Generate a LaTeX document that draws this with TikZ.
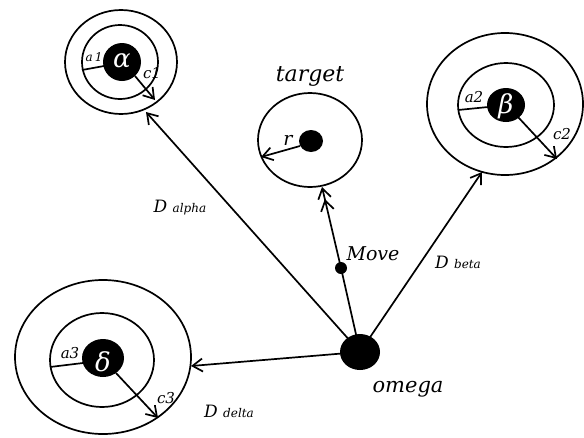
\documentclass[tikz,border=0pt]{standalone}
\usepackage{fontspec}
\setmainfont{DejaVu Serif}
\usetikzlibrary{arrows.meta}
\begin{document}
\begin{tikzpicture}[x=1pt,y=-1pt,
  ln/.style={line width=1.7pt},
  arr/.style={line width=1.7pt,-{Straight Barb[length=10pt,width=13pt,line width=1.7pt]}},
  darr/.style={line width=1.7pt,-{Straight Barb[length=10pt,width=13pt,line width=1.7pt]Straight Barb[length=10pt,width=13pt,line width=1.7pt]}},
  lbl/.style={font=\fontsize{19}{22}\selectfont\itshape},
  sm/.style={font=\fontsize{15}{17}\selectfont\itshape},
  greek/.style={text=white,font=\fontsize{26}{28}\selectfont\itshape}
]
\useasboundingbox (0,0) rectangle (584,437);
% alpha
\draw[ln] (121,62) ellipse [x radius=56,y radius=52];
\draw[ln] (120,62) ellipse [x radius=38,y radius=37];
\fill (122,62) ellipse [x radius=19,y radius=19];
\node[greek] (alpha) at (122,61) {α};
\coordinate (a1s) at (82,70);
\coordinate (a1e) at (104,66);
\draw[ln] (a1s) -- (a1e);
\node[font=\fontsize{12}{13}\selectfont\itshape] (a1) at (94,57) {a\,1};
\coordinate (c1s) at (135,76);
\coordinate (c1e) at (155,100);
\draw[arr] (c1s) -- (c1e);
\node[sm] (c1) at (152,73) {c1};
% target
\draw[ln] (310,140) ellipse [x radius=52,y radius=47];
\fill (311,141) ellipse [x radius=12,y radius=11];
\coordinate (rs) at (300,146);
\coordinate (re) at (261,157);
\draw[arr] (rs) -- (re);
\node[lbl] (r) at (288,140) {r};
\node[font=\fontsize{22}{24}\selectfont\itshape] (target) at (310,76) {target};
% beta
\draw[ln] (505,104) ellipse [x radius=78,y radius=71];
\draw[ln] (506,105) ellipse [x radius=48,y radius=42];
\fill (506,105) ellipse [x radius=19,y radius=17];
\node[greek] (beta) at (506,106) {β};
\coordinate (a2s) at (458,110);
\coordinate (a2e) at (488,107);
\draw[ln] (a2s) -- (a2e);
\node[sm] (a2) at (474,97) {a2};
\coordinate (c2s) at (518,117);
\coordinate (c2e) at (557,159);
\draw[arr] (c2s) -- (c2e);
\node[sm] (c2) at (562,134) {c2};
% delta
\draw[ln] (103,357) ellipse [x radius=88,y radius=77];
\draw[ln] (102,360) ellipse [x radius=52,y radius=47];
\fill (103,358) ellipse [x radius=21,y radius=19];
\node[greek] (delta) at (103,362) {δ};
\coordinate (a3s) at (50,367);
\coordinate (a3e) at (83,363);
\draw[ln] (a3s) -- (a3e);
\node[sm] (a3) at (70,353) {a3};
\coordinate (c3s) at (116,373);
\coordinate (c3e) at (158,418);
\draw[arr] (c3s) -- (c3e);
\node[sm] (c3) at (166,398) {c3};
% omega and move
\fill (360,352) ellipse [x radius=20,y radius=18];
\node[font=\fontsize{21}{24}\selectfont\itshape] (omega) at (408,389) {omega};
\fill (341,268) circle [radius=6];
\node[lbl] (move) at (373,254) {Move};
\coordinate (om) at (360,352);
\coordinate (mv) at (341,268);
\coordinate (ta) at (322,187);
\coordinate (al) at (146,112);
\coordinate (be) at (482,172);
\coordinate (de) at (191,366);
\draw[ln] (om) -- (mv);
\draw[darr] (mv) -- (ta);
\draw[arr] (om) -- (al);
\draw[arr] (om) -- (be);
\draw[arr] (om) -- (de);
\node (Da) at (180,208) {\fontsize{17}{19}\selectfont\itshape D \fontsize{12}{13}\selectfont alpha};
\node (Db) at (458,262) {\fontsize{17}{19}\selectfont\itshape D \fontsize{12}{13}\selectfont beta};
\node (Dd) at (229,411) {\fontsize{17}{19}\selectfont\itshape D \fontsize{12}{13}\selectfont delta};
\end{tikzpicture}
\end{document}
